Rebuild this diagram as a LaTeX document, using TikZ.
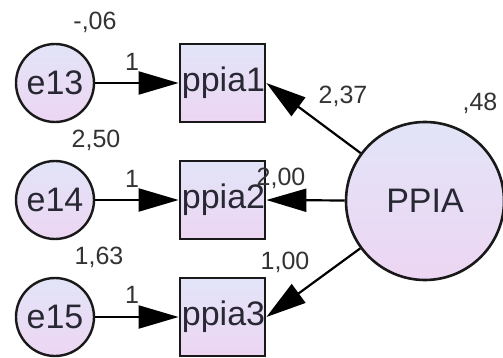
\documentclass[tikz,border=0pt]{standalone}
\usepackage{fontspec}
\setmainfont{Liberation Sans}
\usetikzlibrary{arrows.meta}
\definecolor{semblue}{RGB}{226,228,247}
\definecolor{sempink}{RGB}{237,214,243}
\definecolor{semtext}{RGB}{40,40,52}
\tikzset{
    errvar/.style={circle, draw=black!90, line width=2.4pt, minimum size=78pt, inner sep=0pt,
        top color=semblue, bottom color=sempink, text=semtext, font=\fontsize{34}{36}\selectfont},
    obsvar/.style={rectangle, draw=black!90, line width=2.6pt, minimum width=80pt, minimum height=78pt, inner sep=0pt,
        top color=semblue, bottom color=sempink, text=semtext, font=\fontsize{34}{36}\selectfont},
    latvar/.style={circle, draw=black!90, line width=2.6pt, minimum size=158pt, inner sep=0pt,
        top color=semblue, bottom color=sempink, text=semtext, font=\fontsize{34}{38}\selectfont},
    semarrow/.style={-{Triangle[length=40pt,width=23pt]}, line width=2.2pt, black},
    estim/.style={text=black!80, inner sep=0pt, font=\fontsize{25}{28}\selectfont},
}
\begin{document}
\begin{tikzpicture}[x=1pt,y=-1pt]
  \useasboundingbox (0,0) rectangle (503,358);

  % error terms
  \node[errvar] (e13) at (55,83) {e13};
  \node[errvar] (e14) at (55,200) {e14};
  \node[errvar] (e15) at (55,317) {e15};

  % observed items
  \node[obsvar] (ppia1) at (222.5,83) {\hspace*{2pt}ppia1};
  \node[obsvar] (ppia2) at (222.5,200) {\hspace*{2pt}ppia2};
  \node[obsvar] (ppia3) at (222.5,317) {\hspace*{2pt}ppia3};

  % latent factor
  \node[latvar] (PPIA) at (425,201) {PPIA};

  % error paths
  \draw[semarrow] (e13) -- (ppia1.west);
  \draw[semarrow] (e14) -- (ppia2.west);
  \draw[semarrow] (e15) -- (ppia3.west);

  % loadings
  \draw[semarrow] (PPIA) -- (ppia1.east);
  \draw[semarrow] (PPIA) -- (ppia2.east);
  \draw[semarrow] (PPIA) -- (ppia3.east);

  % estimates
  \node[estim] (v13) at (95,22) {-,06};
  \node[estim] (v14) at (96,140) {2,50};
  \node[estim] (v15) at (99,257) {1,63};
  \node[estim] (w13) at (132,62) {1};
  \node[estim] (w14) at (132,179) {1};
  \node[estim] (w15) at (132,295) {1};
  \node[estim] (l1) at (343,96) {2,37};
  \node[estim] (l2) at (281,178) {2,00};
  \node[estim] (l3) at (285,262) {1,00};
  \node[estim] (vP) at (480,103) {,48};

\end{tikzpicture}
\end{document}
